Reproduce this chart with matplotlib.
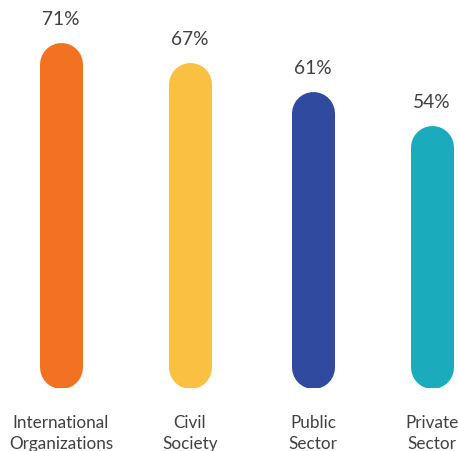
import matplotlib
matplotlib.use("Agg")
import matplotlib.pyplot as plt

# data
categories = ["International\nOrganizations", "Civil\nSociety", "Public\nSector", "Private\nSector"]
values = [71, 67, 61, 54]
colors = ["#F37123", "#F9C041", "#304A9F", "#1AABBD"]

plt.rcParams['font.family'] = ['Lato', 'DejaVu Sans']
text_color = "#404040"

W, H, DPI = 459, 452, 100
fig = plt.figure(figsize=(W / DPI, H / DPI), dpi=DPI)

# layout: bar centres in pixels, bottom of bars at 389 px from top
slot_px = [61, 190, 313, 432]
ax_bottom_px = H - 389
ax = fig.add_axes([0, ax_bottom_px / H, 1, 1 - ax_bottom_px / H])
ymax = 80
ax.set_ylim(0, ymax)
ax.set_xlim(0, W)

bar_px = 43
px_per_val = 389 / ymax
r = (bar_px / 2) / px_per_val  # cap radius in data units
lw = bar_px * 72 / DPI

for x, v, c in zip(slot_px, values, colors):
    ax.plot([x, x], [r, v - r], color=c, linewidth=lw, solid_capstyle='round')
    ax.annotate(f"{v}%", (x, v), xytext=(0, 13.3), textcoords='offset points',
                ha='center', va='baseline', fontsize=13.8, color=text_color)

ax.set_xticks(slot_px)
ax.set_xticklabels(categories, fontsize=12.3, color=text_color, linespacing=1.38)
ax.tick_params(axis='x', length=0, pad=19)
ax.set_yticks([])
for s in ax.spines.values():
    s.set_visible(False)

fig.savefig("out.png", dpi=DPI)
